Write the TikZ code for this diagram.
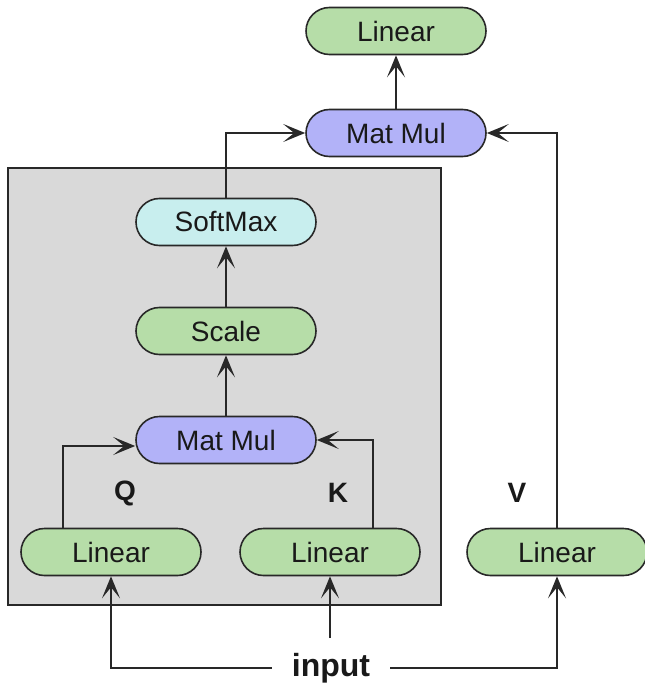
\documentclass[tikz,border=0pt]{standalone}
\usepackage{fontspec}
\setmainfont{Liberation Sans}
\usetikzlibrary{arrows.meta}

\definecolor{lingreen}{RGB}{182,221,168}
\definecolor{mmblue}{RGB}{178,178,248}
\definecolor{smcyan}{RGB}{200,238,238}
\definecolor{boxgray}{RGB}{217,217,217}
\definecolor{edge}{RGB}{40,40,40}

\begin{document}
\begin{tikzpicture}[x=0.5pt, y=-0.5pt,
    op/.style={draw=edge, line width=0.8pt, rounded corners=11.75pt,
      minimum width=90pt, minimum height=23.5pt, inner sep=0pt,
      font=\fontsize{14}{16}\selectfont, text=black!90},
    lin/.style={op, fill=lingreen},
    mm/.style={op, fill=mmblue},
    sm/.style={op, fill=smcyan},
    tag/.style={font=\fontsize{14}{16}\selectfont\bfseries, text=black!90},
    flow/.style={draw=edge, line width=0.9pt,
      -{Stealth[length=11pt, width=9pt, inset=5.5pt]}}]
  \useasboundingbox (0,0) rectangle (644,690);

  % scaled dot-product block
  \draw[fill=boxgray, draw=edge, line width=0.9pt] (8,168) rectangle (441,605);

  \node[lin] (lintop) at (396,31)  {Linear};
  \node[mm]  (mmtop)  at (396,133) {Mat Mul};
  \node[sm]  (soft)   at (226,222) {SoftMax};
  \node[lin] (scale)  at (226,331) {Scale};
  \node[mm]  (mmqk)   at (226,440) {Mat Mul};
  \node[lin] (linq)   at (111,552) {Linear};
  \node[lin] (link)   at (330,552) {Linear};
  \node[lin] (linv)   at (557,552) {Linear};

  \node[tag] (q) at (125,493) {Q};
  \node[tag] (k) at (338,493) {K};
  \node[tag] (v) at (517,493) {V};

  \node[tag, font=\fontsize{16}{18}\selectfont\bfseries, inner xsep=10pt]
    (input) at (331,668) {input};
  \coordinate (split) at (330,638);

  \draw[flow] (input.west) -| (linq.south);
  \draw[flow] (input.east) -| (linv.south);
  \draw[flow] (split) -- (link.south);

  \draw[flow] ([xshift=-24pt]linq.north) |- ([yshift=-3pt]mmqk.west);
  \draw[flow] ([xshift=21.5pt]link.north) |- (mmqk.east);
  \draw[flow] (mmqk) -- (scale);
  \draw[flow] (scale) -- (soft);
  \draw[flow] (soft.north) |- (mmtop.west);
  \draw[flow] (linv.north) |- (mmtop.east);
  \draw[flow] (mmtop) -- (lintop);
\end{tikzpicture}
\end{document}
